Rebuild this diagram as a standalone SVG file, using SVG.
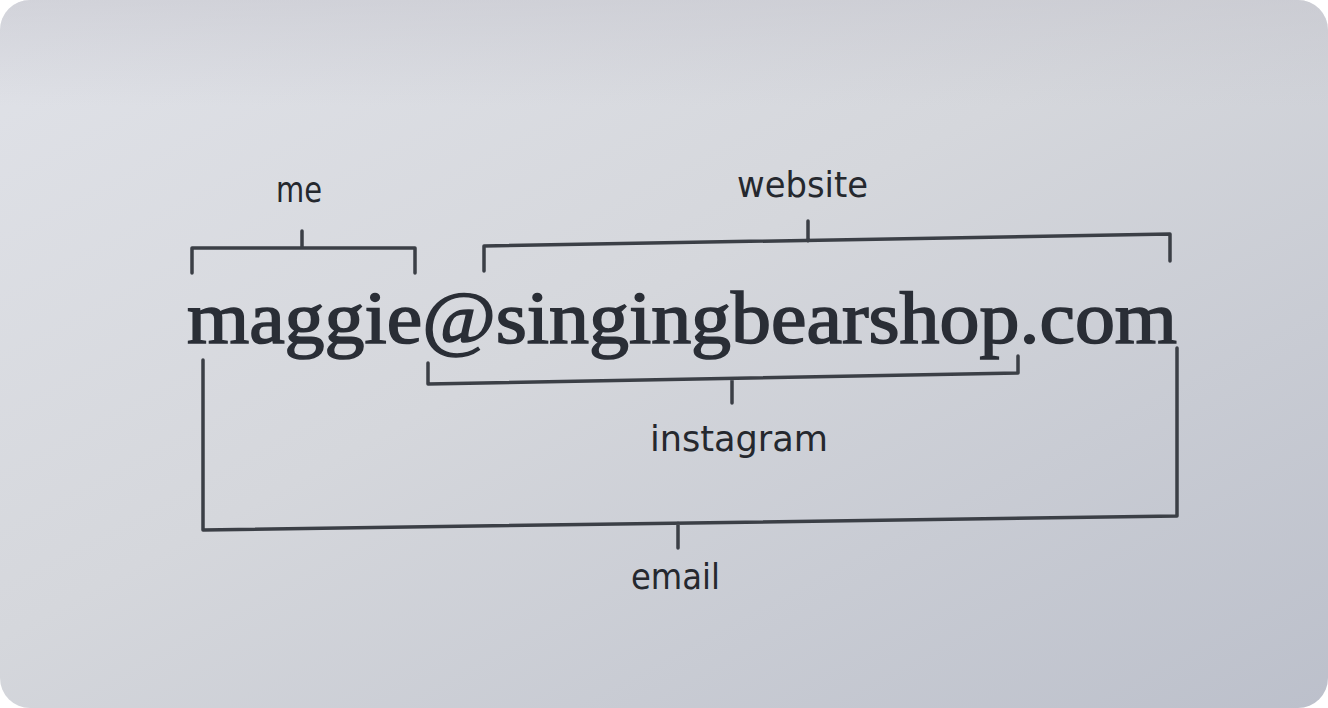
<svg xmlns="http://www.w3.org/2000/svg" width="1328" height="708" viewBox="0 0 1328 708">
<defs>
<linearGradient id="paper" x1="0" y1="0" x2="1" y2="1">
<stop offset="0" stop-color="#e0e2e8"/>
<stop offset="0.45" stop-color="#d5d7dc"/>
<stop offset="1" stop-color="#bcc0cb"/>
</linearGradient>
<linearGradient id="shade" x1="0" y1="0" x2="0" y2="1">
<stop offset="0" stop-color="#c4c4cc" stop-opacity="0.5"/>
<stop offset="0.15" stop-color="#c4c4cc" stop-opacity="0"/>
</linearGradient>
<style>
.br{fill:none;stroke:#3b3f46;stroke-width:3.5;stroke-linecap:round;stroke-linejoin:round}
.hand{font-family:"DejaVu Sans Condensed","Liberation Sans Narrow",sans-serif;fill:#25282e;font-size:35px}
.main{font-family:"Liberation Serif","DejaVu Serif",serif;fill:#2a2e36;stroke:#2a2e36;stroke-width:1.6;font-size:74px}
</style>
</defs>
<rect width="1328" height="708" fill="#ffffff"/>
<rect x="0" y="0" width="1328" height="708" rx="30" fill="url(#paper)"/>
<rect x="0" y="0" width="1328" height="708" rx="30" fill="url(#shade)"/>

<g id="address">
<text class="main" x="187" y="343" textLength="990" lengthAdjust="spacingAndGlyphs">maggie@singingbearshop.com</text>
</g>

<g id="connectors">
<path class="br" d="M192,273 L192,248 L415,248 L415,273 M302,248 L302,231"/>
<path class="br" d="M484,271 L484,246 L1170,234 L1170,261 M808,241 L808,221"/>
<path class="br" d="M428,363 L428,384 L1018,373 L1018,356 M732,380 L732,403"/>
<path class="br" d="M203,360 L203,530 L1177,516 L1177,348 M678,523 L678,548"/>
</g>

<g id="label-me">
<text class="hand" x="276" y="202" textLength="46" lengthAdjust="spacingAndGlyphs">me</text>
</g>
<g id="label-website">
<text class="hand" x="737" y="197" textLength="131" lengthAdjust="spacingAndGlyphs">website</text>
</g>
<g id="label-instagram">
<text class="hand" x="650" y="451" textLength="178" lengthAdjust="spacingAndGlyphs">instagram</text>
</g>
<g id="label-email">
<text class="hand" x="631" y="589" textLength="89" lengthAdjust="spacingAndGlyphs">email</text>
</g>
</svg>
